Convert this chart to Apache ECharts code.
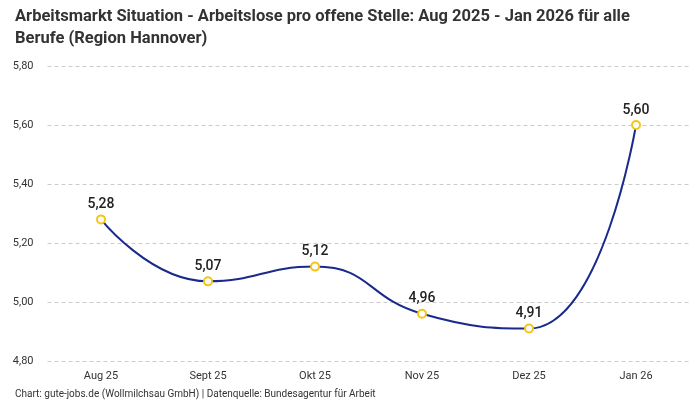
<!DOCTYPE html>
<html><head><meta charset="utf-8">
<script src="https://cdn.jsdelivr.net/npm/echarts@6/dist/echarts.min.js"></script>
<style>html,body{margin:0;padding:0;background:#fff}#c{width:700px;height:400px}</style>
</head><body><div id="c"></div>
<script>
const categories = ["Aug 25","Sept 25","Okt 25","Nov 25","Dez 25","Jan 26"];
const values = [5.28, 5.07, 5.12, 4.96, 4.91, 5.60];
const titleText = "Arbeitsmarkt Situation - Arbeitslose pro offene Stelle: Aug 2025 - Jan 2026 für alle\nBerufe (Region Hannover)";
const sourceText = "Chart: gute-jobs.de (Wollmilchsau GmbH) | Datenquelle: Bundesagentur für Arbeit";
const fmt = v => v.toFixed(2).replace('.', ',');
const chart = echarts.init(document.getElementById('c'));
chart.setOption({
  animation:false,
  title:[{text:titleText,left:10,top:1,textStyle:{fontFamily:"Roboto, sans-serif",fontSize:16.5,fontWeight:"bold",color:"#333",lineHeight:22}},
         {text:sourceText,left:10,top:384,textStyle:{fontFamily:"Roboto, sans-serif",fontSize:10,fontWeight:"normal",color:"#333"}}],
  grid:{left:47.5,right:10.5,top:66,bottom:39},
  xAxis:{type:"category",data:categories,boundaryGap:true,
    axisLine:{show:false},axisTick:{show:false},
    axisLabel:{color:"#333",fontSize:11,fontFamily:"Roboto, sans-serif",margin:10}},
  yAxis:{type:"value",min:4.8,max:5.8,interval:0.2,
    axisLabel:{formatter:fmt,color:"#333",fontSize:11,fontFamily:"Roboto, sans-serif",margin:14},
    splitLine:{lineStyle:{type:[4,3],color:"#ccc"}}},
  series:[{type:"line",data:values,smooth:0.5,
    lineStyle:{color:"#1a2a8c",width:2},
    symbol:"circle",symbolSize:8,
    itemStyle:{color:"#fff",borderColor:"#f5c518",borderWidth:2},
    label:{show:true,position:"top",formatter:p=>fmt(p.value),fontSize:14,fontWeight:"500",color:"#222",fontFamily:"Roboto, sans-serif",distance:3}}]
});
</script></body></html>
